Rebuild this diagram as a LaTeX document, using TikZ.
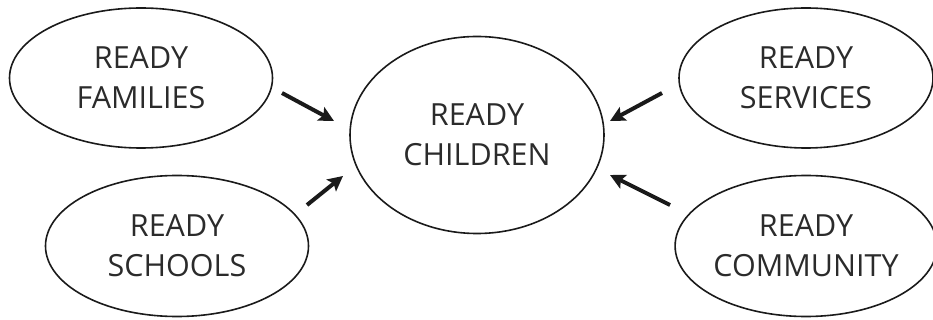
\documentclass[tikz,border=0pt]{standalone}
\usepackage{fontspec}
\setmainfont{Open Sans}
\usetikzlibrary{shapes.geometric,arrows.meta}
\definecolor{txt}{HTML}{2B2B2B}
\definecolor{ln}{HTML}{1A1A1A}
\begin{document}
\begin{tikzpicture}[x=1pt,y=-1pt,
  bubble/.style={ellipse,draw=ln,line width=1.6pt,inner sep=0pt,align=center,
    font=\fontsize{30.5}{40}\selectfont,text=txt},
  arr/.style={draw=ln,line width=4pt,-{Stealth[length=15pt,width=15pt,inset=3pt]}}]
\useasboundingbox (0,0) rectangle (933,320);
\node[bubble,minimum width=263pt,minimum height=140pt] (fam) at (141,78) {READY\\FAMILIES};
\node[bubble,minimum width=263pt,minimum height=141pt] (sch) at (177,246) {READY\\SCHOOLS};
\node[bubble,minimum width=254pt,minimum height=197pt] (chi) at (477,135) {READY\\CHILDREN};
\node[bubble,minimum width=254pt,minimum height=140pt] (ser) at (806,78) {READY\\SERVICES};
\node[bubble,minimum width=254pt,minimum height=141pt] (com) at (806,246) {READY\\COMMUNITY};
\coordinate (famA) at (282,93);  \coordinate (famB) at (334,121);
\coordinate (schA) at (307,205); \coordinate (schB) at (343,176);
\coordinate (serA) at (662,93);  \coordinate (serB) at (610,121);
\coordinate (comA) at (670,205); \coordinate (comB) at (610,175);
\draw[arr] (famA) -- (famB);
\draw[arr] (schA) -- (schB);
\draw[arr] (serA) -- (serB);
\draw[arr] (comA) -- (comB);
\end{tikzpicture}
\end{document}
